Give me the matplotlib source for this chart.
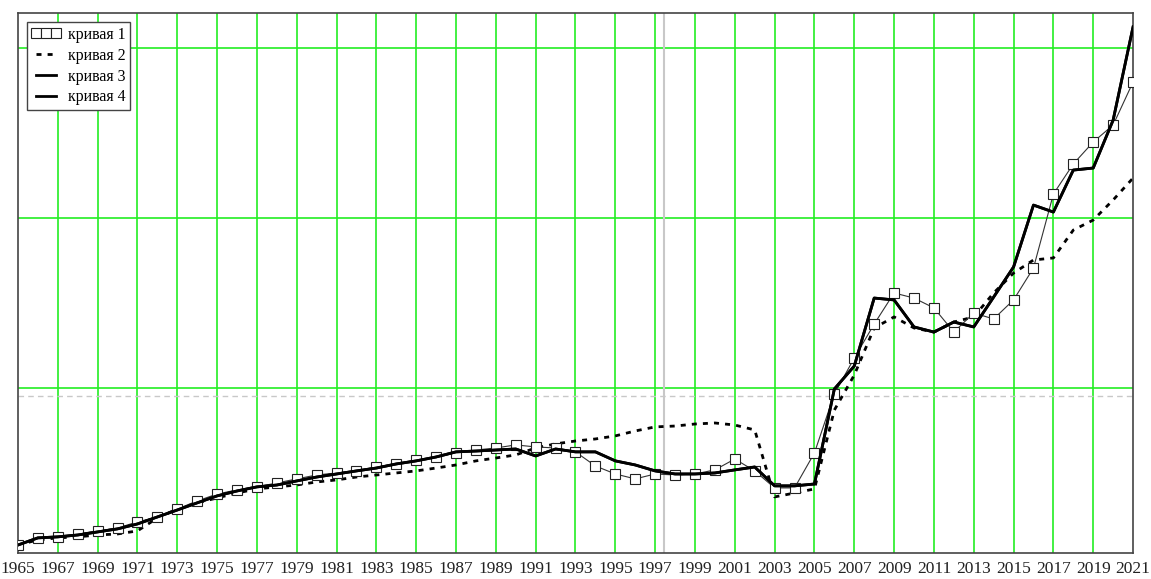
import numpy as np
import matplotlib.pyplot as plt

# годы
years = np.arange(1965, 2022)

# кривая 1 (квадраты)
curve1 = [7.6, 11.8, 12.4, 14.1, 15.9, 17.6, 21.2, 24.1, 28.8, 33.5,
          37.6, 40.0, 41.8, 44.1, 46.5, 48.8, 50.0, 51.2, 53.5, 55.3,
          57.6, 59.4, 61.8, 63.5, 64.7, 66.5, 65.3, 64.7, 62.4, 54.1,
          49.4, 46.5, 49.4, 48.8, 49.4, 51.8, 58.2, 51.2, 41.2, 41.2,
          61.8, 96.5, 117.6, 137.6, 155.9, 152.9, 147.1, 132.9, 144.1, 140.6,
          151.8, 170.6, 214.1, 231.8, 244.7, 254.7, 280.0]

# кривая 2 (пунктир)
curve2 = [7.6, 10.6, 11.8, 12.4, 13.5, 14.1, 15.9, 23.5, 28.8, 32.4,
          35.3, 38.2, 40.6, 41.8, 42.9, 44.7, 45.9, 47.6, 48.8, 50.0,
          51.2, 52.9, 54.7, 57.1, 58.8, 60.6, 64.7, 67.1, 68.8, 70.0,
          71.8, 74.7, 77.1, 77.6, 78.8, 79.4, 78.2, 75.3, 35.9, 38.2,
          40.6, 87.0, 107.6, 135.3, 141.8, 135.3, 132.9, 138.8, 141.8, 155.9,
          167.6, 175.3, 176.5, 192.9, 198.8, 210.6, 223.5]

# кривая 3 (сплошная)
curve3 = [7.6, 11.8, 12.4, 13.5, 15.3, 17.1, 20.0, 24.1, 28.2, 32.4,
          36.5, 39.4, 41.8, 42.9, 45.3, 47.6, 49.4, 51.2, 52.9, 55.3,
          57.1, 59.4, 62.4, 62.9, 63.5, 64.1, 60.0, 64.1, 62.4, 62.4,
          57.1, 54.7, 51.2, 49.4, 49.4, 50.0, 51.8, 53.5, 42.4, 42.4,
          43.5, 99.4, 112.9, 152.9, 151.8, 135.9, 132.9, 138.8, 135.9, 153.5,
          171.2, 207.6, 203.5, 228.2, 229.4, 257.6, 312.4]

# кривая 4 (совпадает с кривой 3)
curve4 = list(curve3)

fig = plt.figure(figsize=(11.51, 5.79), dpi=100)
ax = fig.add_axes([0.0156, 0.0449, 0.9688, 0.9326])

grid_green = '#22ee22'
for yr in range(1967, 2021, 2):
    ax.axvline(yr, color=grid_green, lw=1.2, zorder=0)
for yv in [100, 200, 300]:
    ax.axhline(yv, color=grid_green, lw=1.2, zorder=0)

# серые маркеры
ax.axhline(95.3, color='#c8c8c8', lw=1, ls=(0, (4, 3)), zorder=0.5)
ax.axvline(1997.45, color='#c8c8c8', lw=1.5, zorder=0.5)

ax.plot(years, curve1, color='#333333', lw=0.8, marker='s', ms=6.8,
        mfc='white', mec='#222222', mew=0.8, label='кривая 1', zorder=3)
ax.plot(years, curve2, color='black', lw=2, dashes=(1.8, 2.2), label='кривая 2', zorder=2)
ax.plot(years, curve3, color='black', lw=2, label='кривая 3', zorder=4)
ax.plot(years, curve4, color='black', lw=2, label='кривая 4', zorder=4)

ax.set_xlim(1965, 2021)
ax.set_ylim(2.9, 320.6)
ax.set_xticks(range(1965, 2022, 2))
ax.set_xticklabels([str(y) for y in range(1965, 2022, 2)],
                   family='Liberation Serif', fontsize=12.5, color='#222222')
ax.tick_params(axis='x', length=0, pad=6)
ax.set_yticks([])
for s in ax.spines.values():
    s.set_color('#444444')
    s.set_linewidth(1.2)

leg = ax.legend(loc='upper left', bbox_to_anchor=(0.008, 0.983), borderaxespad=0,
                numpoints=3, handlelength=1.85, handletextpad=0.4,
                prop={'family': 'Liberation Serif', 'size': 11.5},
                fancybox=False, framealpha=1, edgecolor='#444444',
                borderpad=0.3, labelspacing=0.3)
leg.get_frame().set_linewidth(1)

fig.savefig('out.png', dpi=100)
